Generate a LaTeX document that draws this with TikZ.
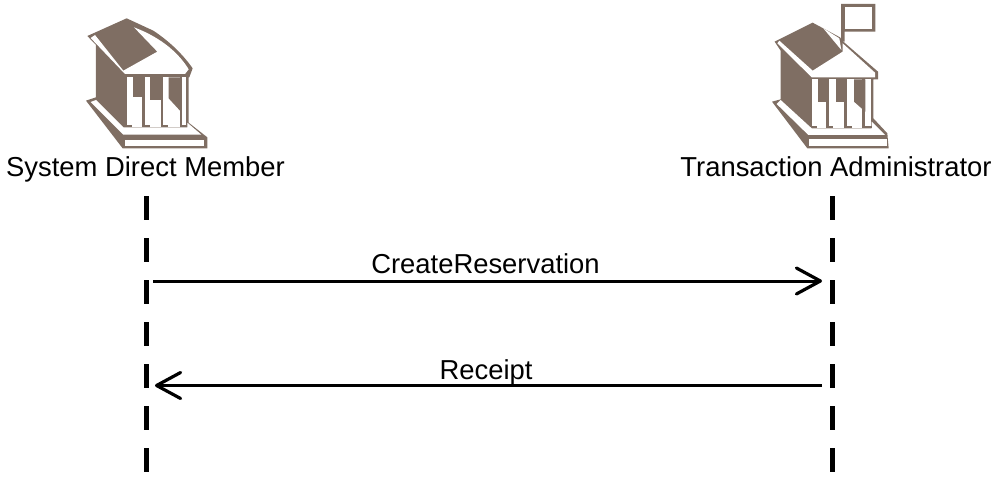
\documentclass[tikz,border=0pt]{standalone}
\usepackage{fontspec}
\setmainfont{Liberation Sans}
\usetikzlibrary{arrows.meta}
\definecolor{bldg}{HTML}{7F6E63}
\tikzset{
  lifeline/.style={line width=5pt,black,dash pattern=on 24pt off 18pt},
  msg/.style={line width=3pt,black,-{Straight Barb[length=24pt,width=26pt,line width=3.2pt,round]}},
  lbl/.style={font=\fontsize{27.4}{30}\selectfont,inner sep=0pt,anchor=base,text=black},
}
\begin{document}
\begin{tikzpicture}[x=1pt,y=-1pt]
\useasboundingbox (0,0) rectangle (1003,489);
% left building
\begin{scope}[shift={(70,0)},x=0.3333pt,y=-0.3333pt]
 \fill[bldg] (48,302)--(78,292)--(78,135)--(52,108)--(170,55)--(250,92)
   .. controls (300,125) and (340,165) .. (368,205) --(358,232)--(356,232)--(356,368)--(412,412)--(412,445)--(158,445)--cycle;
 % roof face
 \fill[white] (62,114)--(165,222)--(345,222)--(356,208)
   .. controls (330,165) and (280,115) .. (192,82)--(262,155)--(160,212)--(75,105)--cycle;
 % colonnade
 \fill[white] (172,232)--(348,232)--(348,382)--(172,382)--cycle;
 % plinth top
 \fill[white] (62,306)--(160,404)--(394,404)--(352,368)--(352,382)--(160,382)--(78,300)--cycle;
 % step
 \fill[white] (165,420)--(402,420)--(402,437)--(165,437)--cycle;
 % column shading
 \fill[bldg] (190,232)--(216,232)--(216,290)--(190,290)--cycle;
 \fill[bldg] (240,232)--(272,232)--(272,300)--(240,300)--cycle;
 \fill[bldg] (296,232)--(330,232)--(330,332)--(296,295)--cycle;
 \fill[bldg] (216,232)--(226,232)--(226,382)--(216,382)--cycle;
 \fill[bldg] (272,232)--(280,232)--(280,382)--(272,382)--cycle;
 \fill[bldg] (330,232)--(337,232)--(337,382)--(330,382)--cycle;
 \fill[bldg] (160,374)--(186,374)--(186,382)--(160,382)--cycle;
 \fill[bldg] (216,374)--(240,374)--(240,382)--(216,382)--cycle;
 \fill[bldg] (272,374)--(295,374)--(295,382)--(272,382)--cycle;
 \fill[bldg] (330,374)--(350,374)--(350,382)--(330,382)--cycle;
\end{scope}
% right building
\begin{scope}[shift={(760,0)},x=0.3333pt,y=-0.3333pt]
 \fill[bldg] (36,305)--(62,298)--(62,152)--(44,125)--(158,68)--(240,112)--(250,125)--(354,215)--(354,238)--(340,238)--(340,355)--(382,400)--(386,445)--(142,445)--cycle;
 % flag
 \fill[bldg] (243,12)--(346,12)--(346,95)--(254,95)--(254,125)--(243,125)--cycle;
 \fill[white] (254,22)--(336,22)--(336,86)--(254,86)--cycle;
 % roof face
 \fill[white] (52,130)--(155,232)--(345,232)--(345,218)--(248,130)--(248,155)--(158,212)--(58,122)--cycle;
 \fill[white] (190,85)--(238,115)--(244,150)--cycle;
 % colonnade
 \fill[white] (155,238)--(332,238)--(332,385)--(155,385)--cycle;
 % plinth top
 \fill[white] (50,312)--(145,405)--(375,405)--(335,365)--(335,385)--(155,385)--(62,300)--cycle;
 % step
 \fill[white] (148,417)--(382,417)--(382,437)--(148,437)--cycle;
 % column shading
 \fill[bldg] (175,238)--(207,238)--(207,305)--(175,305)--cycle;
 \fill[bldg] (228,238)--(262,238)--(262,305)--(228,305)--cycle;
 \fill[bldg] (282,238)--(316,238)--(316,335)--(282,305)--cycle;
 \fill[bldg] (197,238)--(207,238)--(207,385)--(197,385)--cycle;
 \fill[bldg] (252,238)--(262,238)--(262,385)--(252,385)--cycle;
 \fill[bldg] (306,238)--(316,238)--(316,385)--(306,385)--cycle;
 \fill[bldg] (155,377)--(172,377)--(172,385)--(155,385)--cycle;
 \fill[bldg] (197,377)--(220,377)--(220,385)--(197,385)--cycle;
 \fill[bldg] (252,377)--(275,377)--(275,385)--(252,385)--cycle;
 \fill[bldg] (306,377)--(335,377)--(335,385)--(306,385)--cycle;
\end{scope}
\node[lbl] (sdm) at (145.5,176) {System Direct Member};
\node[lbl] (ta) at (836,176) {Transaction Administrator};
\coordinate (a1) at (146,196); \coordinate (a2) at (146,474);
\coordinate (b1) at (832.5,196); \coordinate (b2) at (832.5,474);
\draw[lifeline] (a1)--(a2);
\draw[lifeline] (b1)--(b2);
\coordinate (m1s) at (153,281); \coordinate (m1e) at (822,281);
\coordinate (m2s) at (822,385.5); \coordinate (m2e) at (155,385.5);
\draw[msg] (m1s)--(m1e);
\draw[msg] (m2s)--(m2e);
\node[lbl] (cr) at (485.5,273) {CreateReservation};
\node[lbl] (rc) at (486,379) {Receipt};
\end{tikzpicture}
\end{document}
